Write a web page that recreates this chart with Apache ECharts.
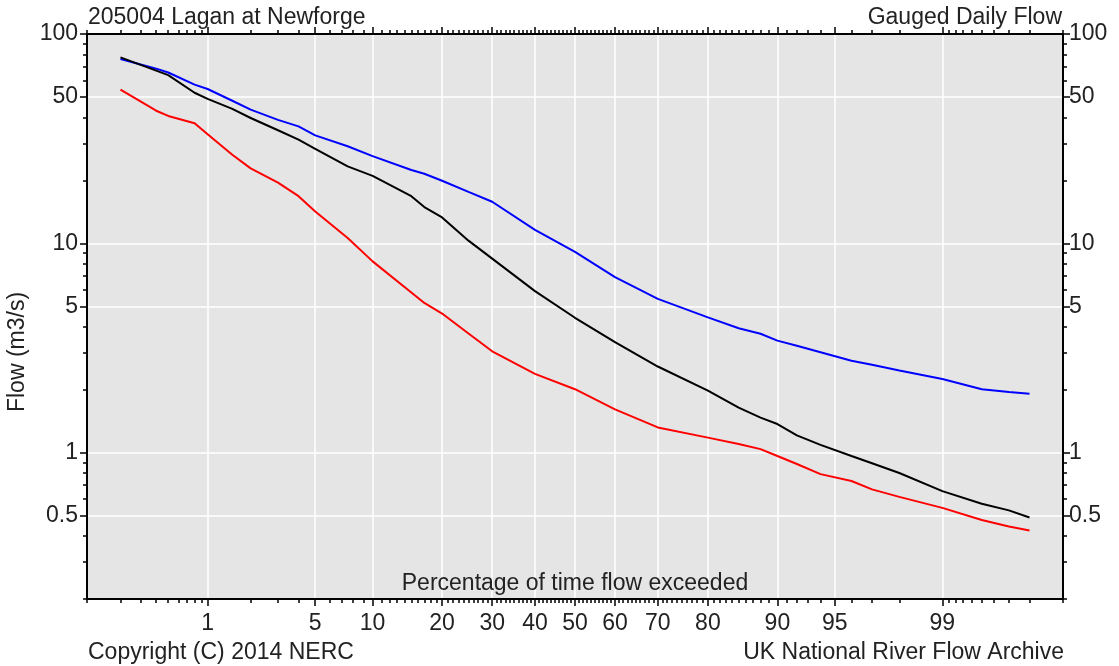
<!DOCTYPE html>
<html><head><meta charset="utf-8">
<script src="https://cdn.jsdelivr.net/npm/echarts@6/dist/echarts.min.js"></script>
<style>html,body{margin:0;padding:0;background:#fff}#c{width:1119px;height:666px}</style>
</head><body><div id="c"></div>
<script>
// ---------- texts ----------
const titleLeft = '205004 Lagan at Newforge';
const titleRight = 'Gauged Daily Flow';
const footerLeft = 'Copyright (C) 2014 NERC';
const footerRight = 'UK National River Flow Archive';
const xAxisTitle = 'Percentage of time flow exceeded';
const yAxisTitle = 'Flow (m3/s)';

// ---------- data (percentage of time exceeded, flow m3/s) ----------
const percentExceeded = [0.2, 0.4, 0.5, 0.8, 1, 1.5, 2, 3, 4, 5, 7.5, 10, 15, 17, 20, 25, 30, 40, 50, 60, 70, 80, 85, 88, 90, 92, 94, 96, 97, 98, 99, 99.5, 99.7, 99.8];
const flowBlue  = [76, 68.3, 65.5, 57.3, 54.6, 48.0, 43.5, 38.9, 36.2, 32.8, 29.1, 26.1, 22.4, 21.5, 19.9, 17.6, 15.8, 11.6, 9.1, 6.9, 5.43, 4.43, 3.93, 3.70, 3.43, 3.24, 3.02, 2.75, 2.63, 2.47, 2.25, 2.01, 1.95, 1.91];
const flowBlack = [77.3, 66.8, 63.6, 52.4, 49.0, 43.9, 39.7, 34.7, 31.3, 28.3, 23.3, 21.0, 16.8, 14.9, 13.3, 10.3, 8.45, 5.91, 4.41, 3.37, 2.58, 1.98, 1.64, 1.47, 1.37, 1.21, 1.09, 0.964, 0.89, 0.80, 0.655, 0.57, 0.53, 0.49];
const flowRed   = [54.2, 43.0, 40.6, 37.5, 33.2, 26.5, 22.8, 19.5, 16.8, 14.2, 10.6, 8.2, 5.82, 5.19, 4.62, 3.71, 3.05, 2.38, 2.01, 1.61, 1.32, 1.18, 1.10, 1.04, 0.964, 0.883, 0.79, 0.732, 0.668, 0.615, 0.545, 0.477, 0.444, 0.425];

// ---------- tick labels ----------
const xTickLabels = [1, 5, 10, 20, 30, 40, 50, 60, 70, 80, 90, 95, 99];
const yTickLabels = [0.5, 1, 5, 10, 50, 100];
const xRange = [0.1, 99.9];
const yRange = [0.2, 100];

// normal probability scale
function probit(p) {
  const a = [-3.969683028665376e+01, 2.209460984245205e+02, -2.759285104469687e+02, 1.383577518672690e+02, -3.066479806614716e+01, 2.506628277459239e+00];
  const b = [-5.447609879822406e+01, 1.615858368580409e+02, -1.556989798598866e+02, 6.680131188771972e+01, -1.328068155288572e+01];
  const c = [-7.784894002430293e-03, -3.223964580411365e-01, -2.400758277161838e+00, -2.549732539343734e+00, 4.374664141464968e+00, 2.938163982698783e+00];
  const d = [7.784695709041462e-03, 3.224671290700398e-01, 2.445134137142996e+00, 3.754408661907416e+00];
  const pl = 0.02425, ph = 1 - pl;
  let q, r;
  if (p < pl) { q = Math.sqrt(-2 * Math.log(p)); return (((((c[0]*q+c[1])*q+c[2])*q+c[3])*q+c[4])*q+c[5]) / ((((d[0]*q+d[1])*q+d[2])*q+d[3])*q+1); }
  if (p <= ph) { q = p - 0.5; r = q*q; return (((((a[0]*r+a[1])*r+a[2])*r+a[3])*r+a[4])*r+a[5])*q / (((((b[0]*r+b[1])*r+b[2])*r+b[3])*r+b[4])*r+1); }
  q = Math.sqrt(-2 * Math.log(1 - p)); return -(((((c[0]*q+c[1])*q+c[2])*q+c[3])*q+c[4])*q+c[5]) / ((((d[0]*q+d[1])*q+d[2])*q+d[3])*q+1);
}
const z = pct => probit(pct / 100);

// minor tick positions
const xMinorPct = [];
for (let i = 1; i <= 9; i++) xMinorPct.push(i / 10);
for (let i = 1; i <= 99; i++) xMinorPct.push(i);
for (let i = 1; i <= 9; i++) xMinorPct.push(Math.round((99 + i / 10) * 10) / 10);
const yMinor = [];
for (let k = 2; k <= 9; k++) yMinor.push(k / 10);
for (let k = 1; k <= 9; k++) yMinor.push(k);
for (let k = 1; k <= 10; k++) yMinor.push(k * 10);

const zMin = z(xRange[0]) - 1e-9, zMax = z(xRange[1]) + 1e-9;
const xMinorZ = xMinorPct.map(z);
const xMajorZ = xTickLabels.map(z);
const xLabelFmt = v => {
  let best = 0, bd = Infinity;
  xMajorZ.forEach((m, i) => { const dd = Math.abs(m - v); if (dd < bd) { bd = dd; best = i; } });
  return String(xTickLabels[best]);
};

const FONT = "'Liberation Sans', Arial, sans-serif";
const TXT = '#222';
const FS = 23;

function xAx(pos, ticks, len, opts) {
  return Object.assign({
    type: 'value', position: pos, min: zMin, max: zMax,
    axisLine: { show: false, onZero: false },
    axisTick: { show: true, inside: false, customValues: ticks, length: len, lineStyle: { color: '#000', width: 1.5 } },
    axisLabel: { show: false },
    splitLine: { show: false }
  }, opts || {});
}
function yAx(pos, ticks, len, opts) {
  return Object.assign({
    type: 'log', logBase: 10, position: pos, min: yRange[0], max: yRange[1],
    axisLine: { show: false, onZero: false },
    axisTick: { show: true, inside: false, customValues: ticks, length: len, lineStyle: { color: '#000', width: 1.5 } },
    axisLabel: { show: false },
    splitLine: { show: false }
  }, opts || {});
}
const axisLineStyle = { show: true, onZero: false, lineStyle: { color: '#000', width: 2 } };

const chart = echarts.init(document.getElementById('c'), null, { renderer: 'canvas' });
const mk = (name, ys, color) => ({
  name, type: 'line', xAxisIndex: 0, yAxisIndex: 0, showSymbol: false, symbol: 'none',
  lineStyle: { color, width: 2 }, itemStyle: { color }, z: 5,
  data: percentExceeded.map((p, i) => [z(p), ys[i]])
});

chart.setOption({
  animation: false,
  backgroundColor: '#fff',
  grid: { left: 87, right: 56, top: 34, bottom: 67, show: true, backgroundColor: '#e5e5e5', borderWidth: 0 },
  xAxis: [
    xAx('bottom', xMinorZ, 4, {
      axisLine: axisLineStyle,
      name: xAxisTitle, nameLocation: 'middle', nameGap: -15, nameMoveOverlap: false,
      nameTextStyle: { color: TXT, fontSize: FS, fontFamily: FONT, verticalAlign: 'middle' },
      axisLabel: { show: true, customValues: xMajorZ, formatter: xLabelFmt, margin: 13, color: TXT, fontSize: FS, fontFamily: FONT }
    }),
    xAx('top', xMinorZ, 4, { axisLine: axisLineStyle }),
    xAx('bottom', xMajorZ, 7, { splitLine: { show: true, lineStyle: { color: '#ffffff', width: 1.5 } } }),
    xAx('top', xMajorZ, 7)
  ],
  yAxis: [
    yAx('left', yMinor, 4, {
      axisLine: axisLineStyle,
      axisLabel: { show: true, customValues: yTickLabels, formatter: v => String(v), margin: 9, color: TXT, fontSize: FS, fontFamily: FONT }
    }),
    yAx('right', yMinor, 4, {
      axisLine: axisLineStyle,
      axisLabel: { show: true, customValues: yTickLabels, formatter: v => String(v), margin: 6, color: TXT, fontSize: FS, fontFamily: FONT }
    }),
    yAx('left', yTickLabels, 7, { splitLine: { show: true, lineStyle: { color: '#ffffff', width: 1.5 } } }),
    yAx('right', yTickLabels, 7)
  ],
  series: [
    mk('Maximum', flowBlue, '#0000ff'),
    mk('Median', flowBlack, '#000000'),
    mk('Minimum', flowRed, '#ff0000')
  ],
  graphic: [
    { type: 'text', left: 88, top: 6, style: { text: titleLeft, fill: TXT, font: FS + 'px ' + FONT } },
    { type: 'text', right: 57, top: 6, style: { text: titleRight, fill: TXT, font: FS + 'px ' + FONT } },
    { type: 'text', left: 88, top: 641, style: { text: footerLeft, fill: TXT, font: FS + 'px ' + FONT } },
    { type: 'text', right: 55, top: 641, style: { text: footerRight, fill: TXT, font: FS + 'px ' + FONT } },
    { type: 'text', x: 18, y: 352, rotation: Math.PI / 2, style: { text: yAxisTitle, fill: TXT, font: FS + 'px ' + FONT, align: 'center', verticalAlign: 'middle' } }
  ]
});
</script></body></html>
